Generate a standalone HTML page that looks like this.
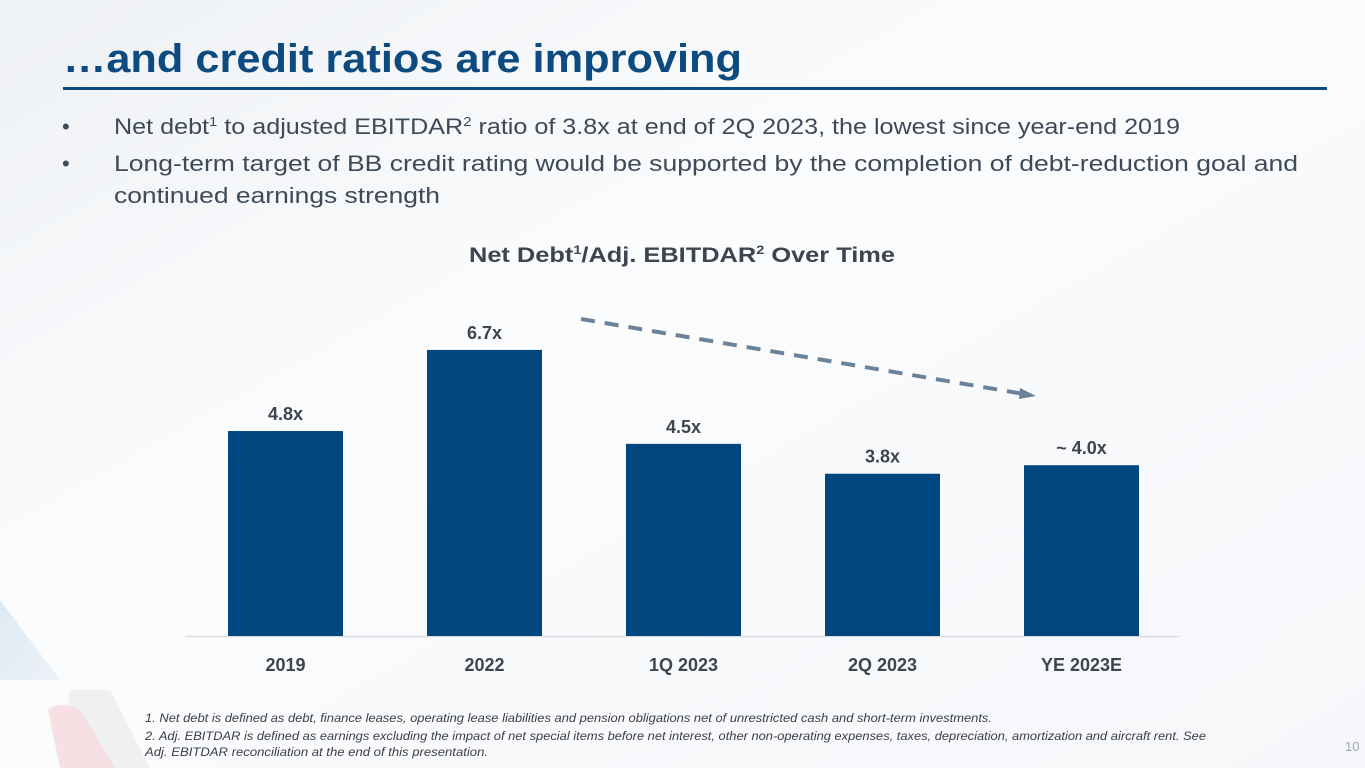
<!DOCTYPE html>
<html><head><meta charset="utf-8"><style>
html,body{margin:0;padding:0;width:1365px;height:768px;overflow:hidden;background:#fff}
svg{display:block;font-family:"Liberation Sans",sans-serif}
</style></head><body>
<svg id="s" width="1365" height="768" viewBox="0 0 1365 768">
<defs>
<linearGradient id="bg" x1="0" y1="0" x2="1" y2="1"><stop offset="0" stop-color="#eef1f5"/><stop offset="0.4" stop-color="#fbfcfd"/><stop offset="1" stop-color="#f5f7fa"/></linearGradient>
<linearGradient id="blu" x1="0" y1="0" x2="1" y2="1"><stop offset="0" stop-color="#d6e6f1"/><stop offset="1" stop-color="#e9eef4"/></linearGradient>
</defs>
<rect width="1365" height="768" fill="url(#bg)"/>
<polygon points="0,600 0,680 60,680" fill="url(#blu)" opacity="0.8"/>
<path d="M70,690 L110,690 L150,768 L60,768 Z" fill="#eef0f2"/>
<path d="M48,710 Q60,700 80,710 L115,768 L60,768 Z" fill="#f6dde1" opacity="0.9"/>
<text x="63" y="72" font-size="40" font-weight="bold" fill="#0d4a80" textLength="679" lengthAdjust="spacingAndGlyphs">…and credit ratios are improving</text>
<rect x="63" y="87" width="1264" height="3" fill="#0d4a80"/>
<g font-size="22" fill="#3d4a58">
<text x="62" y="134">•</text>
<text x="114" y="134" textLength="1066" lengthAdjust="spacingAndGlyphs">Net debt<tspan font-size="13" dy="-8">1</tspan><tspan dy="8"> to adjusted EBITDAR</tspan><tspan font-size="13" dy="-8">2</tspan><tspan dy="8"> ratio of 3.8x at end of 2Q 2023, the lowest since year-end 2019</tspan></text>
<text x="62" y="171">•</text>
<text x="114" y="171" textLength="1184" lengthAdjust="spacingAndGlyphs">Long-term target of BB credit rating would be supported by the completion of debt-reduction goal and</text>
<text x="114" y="203" textLength="326" lengthAdjust="spacingAndGlyphs">continued earnings strength</text>
</g>
<text x="682" y="262" font-size="21" font-weight="bold" fill="#3d4650" text-anchor="middle" textLength="426" lengthAdjust="spacingAndGlyphs">Net Debt<tspan font-size="12" dy="-8">1</tspan><tspan dy="8">/Adj. EBITDAR</tspan><tspan font-size="12" dy="-8">2</tspan><tspan dy="8"> Over Time</tspan></text>
<line x1="185" y1="636.5" x2="1180" y2="636.5" stroke="#d9dde2" stroke-width="1.5"/>
<g id="bars"></g>
<line x1="581" y1="319" x2="1024" y2="394" stroke="#6b8298" stroke-width="4" stroke-dasharray="14,10"/>
<polygon points="1036,396 1020,388 1019,399" fill="#6b8298"/>
<g font-size="11.5" font-style="italic" fill="#3a3f45">
<text x="145" y="722" textLength="847" lengthAdjust="spacingAndGlyphs">1.  Net debt is defined as debt, finance leases, operating lease liabilities and pension obligations net of unrestricted cash and short-term investments.</text>
<text x="145" y="740" textLength="1061" lengthAdjust="spacingAndGlyphs">2. Adj. EBITDAR is defined as earnings excluding the impact of net special items before net interest, other non-operating expenses, taxes, depreciation, amortization and aircraft rent. See</text>
<text x="145" y="756" textLength="343" lengthAdjust="spacingAndGlyphs">Adj. EBITDAR reconciliation at the end of this presentation.</text>
</g>
<text x="1345" y="751" font-size="13" fill="#a0a6ad">10</text>
</svg>
<script>
const categories=["2019","2022","1Q 2023","2Q 2023","YE 2023E"];
const values=[4.8,6.7,4.5,3.8,4.0];
const valueLabels=["4.8x","6.7x","4.5x","3.8x","~ 4.0x"];
const NS="http://www.w3.org/2000/svg";
const base=636, pxPerUnit=42.7, x0=228, step=199, bw=115;
function xs(i){return x0+i*step;}
function ys(v){return base-v*pxPerUnit;}
const g=document.getElementById('bars');
categories.forEach((c,i)=>{
  const r=document.createElementNS(NS,'rect');
  r.setAttribute('x',xs(i));r.setAttribute('y',ys(values[i]));
  r.setAttribute('width',bw);r.setAttribute('height',base-ys(values[i]));
  r.setAttribute('fill','#00467f');
  
  
  g.appendChild(r);
  const t=document.createElementNS(NS,'text');
  t.setAttribute('x',xs(i)+bw/2);t.setAttribute('y',ys(values[i])-11);
  t.setAttribute('text-anchor','middle');t.setAttribute('font-size','18');t.setAttribute('font-weight','bold');t.setAttribute('fill','#3d4650');
  t.textContent=valueLabels[i];
  
  
  g.appendChild(t);
  const l=document.createElementNS(NS,'text');
  l.setAttribute('x',xs(i)+bw/2);l.setAttribute('y',671);
  l.setAttribute('text-anchor','middle');l.setAttribute('font-size','18');l.setAttribute('font-weight','bold');l.setAttribute('fill','#3d4650');
  l.textContent=c;
  
  
  g.appendChild(l);
});
</script>
</body></html>
